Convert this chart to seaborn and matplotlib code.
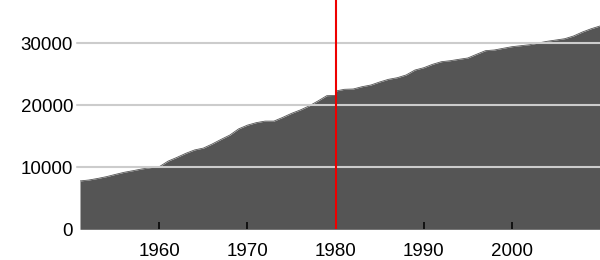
import matplotlib
matplotlib.use("Agg")
import matplotlib.pyplot as plt
import seaborn as sns
import pandas as pd

years = [1951, 1952, 1953, 1954, 1955, 1956, 1957, 1958, 1959, 1960,
         1961, 1962, 1963, 1964, 1965, 1966, 1967, 1968, 1969, 1970,
         1971, 1972, 1973, 1974, 1975, 1976, 1977, 1978, 1979, 1980, 1980,
         1981, 1982, 1983, 1984, 1985, 1986, 1987, 1988, 1989, 1990,
         1991, 1992, 1993, 1994, 1995, 1996, 1997, 1998, 1999, 2000,
         2001, 2002, 2003, 2004, 2005, 2006, 2007, 2008, 2009, 2010]
values = [7800, 7950, 8200, 8490, 8850, 9190, 9450, 9730, 9950, 10100,
          11000, 11600, 12250, 12800, 13100, 13760, 14500, 15200, 16200, 16800,
          17200, 17450, 17450, 18050, 18700, 19250, 19900, 20700, 21550, 21600, 22300,
          22580, 22630, 23000, 23270, 23760, 24190, 24450, 24890, 25690, 26060,
          26610, 27030, 27190, 27420, 27630, 28230, 28810, 28920, 29190, 29450,
          29610, 29770, 30050, 30320, 30530, 30740, 31180, 31820, 32350, 32790]
y_ticks = [0, 10000, 20000, 30000]
x_ticks = [1960, 1970, 1980, 1990, 2000]
marker_year = 1980

df = pd.DataFrame({"year": years, "value": values})

sns.set_theme(style="white")
plt.rcParams["font.family"] = ["Liberation Sans", "DejaVu Sans"]

fig = plt.figure(figsize=(6, 2.6), dpi=100)
ax = fig.add_axes([80 / 600, 1 - 229.3 / 260, 520 / 600, 229.3 / 260])

fill_color = "#555555"
ax.fill_between(df["year"], 0, df["value"], color=fill_color, linewidth=0, zorder=1)
sns.lineplot(data=df, x="year", y="value", ax=ax, color=fill_color, linewidth=0.6,
             zorder=1, sort=False, estimator=None)

for yt in y_ticks[1:]:
    ax.axhline(yt, xmin=-0.006, xmax=1, color="#cccccc", linewidth=1.5, zorder=2, clip_on=False)

# inward tick marks at the bottom, drawn on top of the area
ax.plot(x_ticks, [0] * len(x_ticks), linestyle="none", marker=2, markersize=5,
        markeredgewidth=1.1, color="black", zorder=3, clip_on=False)

ax.axvline(marker_year, color="#ee0000", linewidth=1.5, zorder=4)

ax.set_xlim(1951, 2010)
ax.set_ylim(0, 36984)
ax.set_xticks(x_ticks)
ax.set_xticklabels([str(x) for x in x_ticks])
ax.set_yticks(y_ticks)
ax.set_yticklabels([str(y) for y in y_ticks])
ax.set_xlabel("")
ax.set_ylabel("")
for s in ax.spines.values():
    s.set_visible(False)
ax.tick_params(axis="x", length=0, pad=10, labelsize=13.5, labelcolor="black")
ax.tick_params(axis="y", length=0, pad=5, labelsize=13.5, labelcolor="black")
ax.grid(False)

fig.savefig("out.png", dpi=100)
